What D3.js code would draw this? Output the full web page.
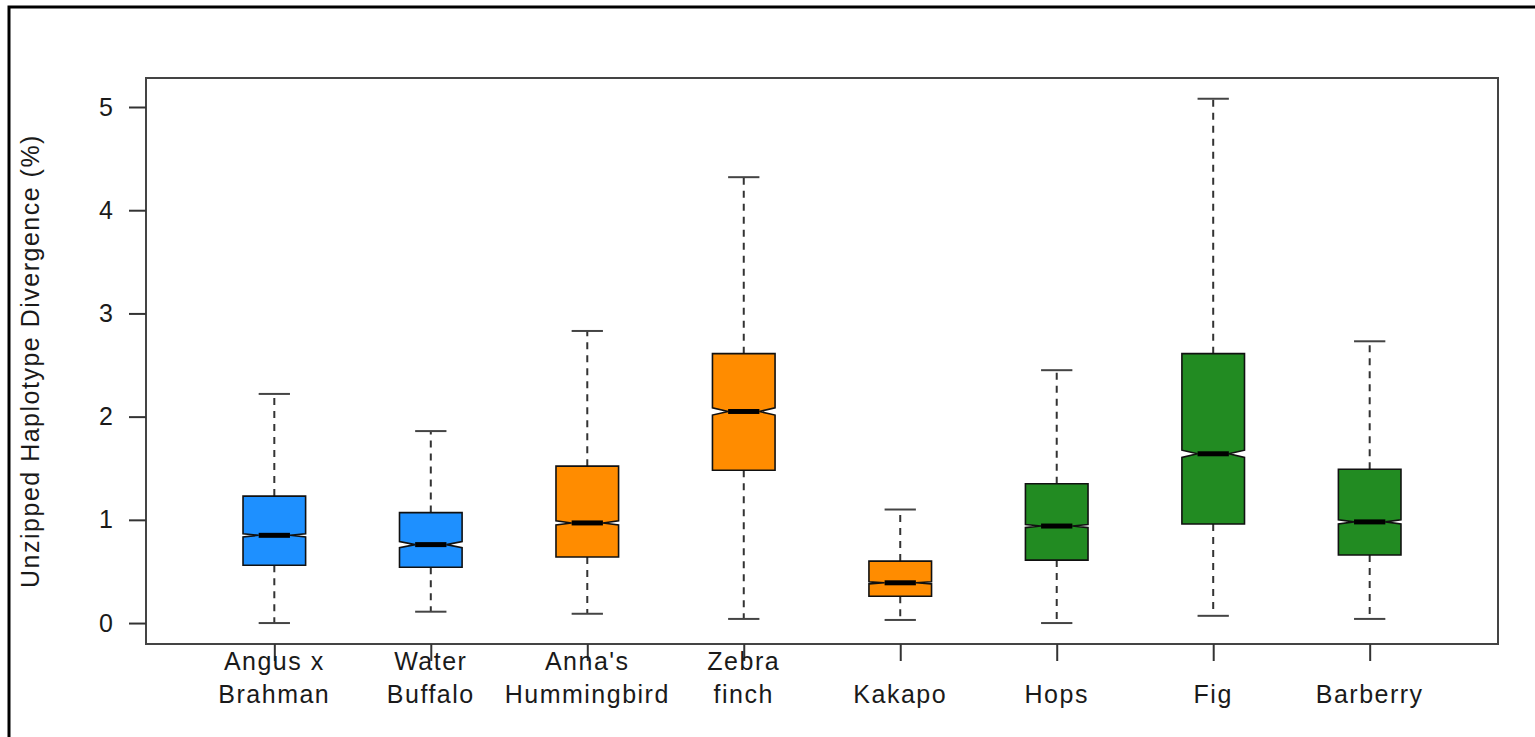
<!DOCTYPE html>
<html>
<head>
<meta charset="utf-8">
<script src="https://cdn.jsdelivr.net/npm/d3@7"></script>
<style>
  html, body { margin: 0; padding: 0; background: #fff; }
  svg { display: block; }
</style>
</head>
<body>
<svg id="chart"></svg>
<script>
// categories and box stats
const species = [["Angus x", "Brahman"], ["Water", "Buffalo"], ["Anna's", "Hummingbird"], ["Zebra", "finch"],
                 ["Kakapo"], ["Hops"], ["Fig"], ["Barberry"]];
const groupColor = ["#1E90FF", "#1E90FF", "#FF8C00", "#FF8C00", "#FF8C00", "#228B22", "#228B22", "#228B22"];
const whiskLow  = [0.00, 0.11, 0.09, 0.04, 0.03, 0.00, 0.07, 0.04];
const q1        = [0.56, 0.54, 0.64, 1.48, 0.26, 0.61, 0.96, 0.66];
const medians   = [0.85, 0.76, 0.97, 2.05, 0.39, 0.94, 1.64, 0.98];
const q3        = [1.23, 1.07, 1.52, 2.61, 0.60, 1.35, 2.61, 1.49];
const whiskHigh = [2.22, 1.86, 2.83, 4.32, 1.10, 2.45, 5.08, 2.73];
const notchHalf = [0.015, 0.03, 0.02, 0.035, 0.01, 0.015, 0.035, 0.02];
const yTicks = [0, 1, 2, 3, 4, 5];

const width = 1535, height = 737;
const plot = { left: 146, right: 1498, top: 78, bottom: 644 };
const font = "Liberation Sans, Arial, sans-serif";

const svg = d3.select("#chart").attr("width", width).attr("height", height);

// outer frame (runs off the right and bottom edges)
svg.append("rect")
    .attr("x", 9).attr("y", 7).attr("width", width + 20).attr("height", height + 20)
    .attr("fill", "none").attr("stroke", "#000").attr("stroke-width", 3);

// R style: index 1..n, range padded 4%
const x = d3.scaleLinear().domain([0.18, species.length + 0.82]).range([plot.left, plot.right]);
const y = d3.scaleLinear().domain([-0.203, 5.281]).range([plot.bottom, plot.top]);

const boxHalf = 0.2;   // in x units
const capHalf = 0.1;

const g = svg.append("g");

species.forEach((s, i) => {
    const cx = x(i + 1);
    const wl = x(i + 1 - boxHalf), wr = x(i + 1 + boxHalf);
    const nl = x(i + 1 - boxHalf / 2), nr = x(i + 1 + boxHalf / 2);

    // whiskers
    [[q3[i], whiskHigh[i]], [q1[i], whiskLow[i]]].forEach(([a, b]) => {
        g.append("line")
            .attr("x1", cx).attr("x2", cx).attr("y1", y(a)).attr("y2", y(b))
            .attr("stroke", "#333").attr("stroke-width", 2).attr("stroke-dasharray", "7,6");
        g.append("line")
            .attr("x1", x(i + 1 - capHalf)).attr("x2", x(i + 1 + capHalf))
            .attr("y1", y(b)).attr("y2", y(b))
            .attr("stroke", "#444").attr("stroke-width", 2);
    });

    // notched box
    const pts = [
        [wl, y(q3[i])], [wl, y(medians[i] + notchHalf[i])], [nl, y(medians[i])],
        [wl, y(medians[i] - notchHalf[i])], [wl, y(q1[i])], [wr, y(q1[i])],
        [wr, y(medians[i] - notchHalf[i])], [nr, y(medians[i])],
        [wr, y(medians[i] + notchHalf[i])], [wr, y(q3[i])]
    ];
    g.append("path")
        .attr("d", d3.line()(pts) + "Z")
        .attr("fill", groupColor[i]).attr("stroke", "#111").attr("stroke-width", 1.6);

    // median
    g.append("line")
        .attr("x1", nl).attr("x2", nr).attr("y1", y(medians[i])).attr("y2", y(medians[i]))
        .attr("stroke", "#000").attr("stroke-width", 5);
});

// plot box
svg.append("rect")
    .attr("x", plot.left).attr("y", plot.top)
    .attr("width", plot.right - plot.left).attr("height", plot.bottom - plot.top)
    .attr("fill", "none").attr("stroke", "#444").attr("stroke-width", 2);

// y axis
const yAxis = svg.append("g")
    .attr("transform", `translate(${plot.left},0)`)
    .call(d3.axisLeft(y).tickValues(yTicks).tickSize(17).tickPadding(16).tickFormat(d3.format("d")));
yAxis.select(".domain").remove();
yAxis.selectAll("line").attr("stroke", "#333").attr("stroke-width", 2);
yAxis.selectAll("text").attr("font-family", font)
    .attr("font-size", 25).attr("fill", "#1a1a1a");

// x axis ticks + two-line labels
const xAxis = svg.append("g").attr("transform", `translate(0,${plot.bottom})`)
    .call(d3.axisBottom(x).tickValues(d3.range(1, species.length + 1)).tickSize(17).tickFormat(""));
xAxis.select(".domain").remove();
xAxis.selectAll("line").attr("stroke", "#333").attr("stroke-width", 2);

species.forEach((s, i) => {
    const t = svg.append("text")
        .attr("x", x(i + 1)).attr("text-anchor", "middle")
        .attr("font-family", font).attr("letter-spacing", 1.5)
        .attr("font-size", 25).attr("fill", "#1a1a1a");
    s.forEach((line, j) => {
        t.append("tspan").attr("x", x(i + 1))
            .attr("y", 703 - (s.length - 1 - j) * 33)
            .text(line);
    });
});

// y label
svg.append("text")
    .attr("transform", `translate(39,${(plot.top + plot.bottom) / 2}) rotate(-90)`)
    .attr("text-anchor", "middle")
    .attr("font-family", font).attr("letter-spacing", 1.5)
    .attr("font-size", 25).attr("fill", "#1a1a1a")
    .text("Unzipped Haplotype Divergence (%)");
</script>
</body>
</html>
